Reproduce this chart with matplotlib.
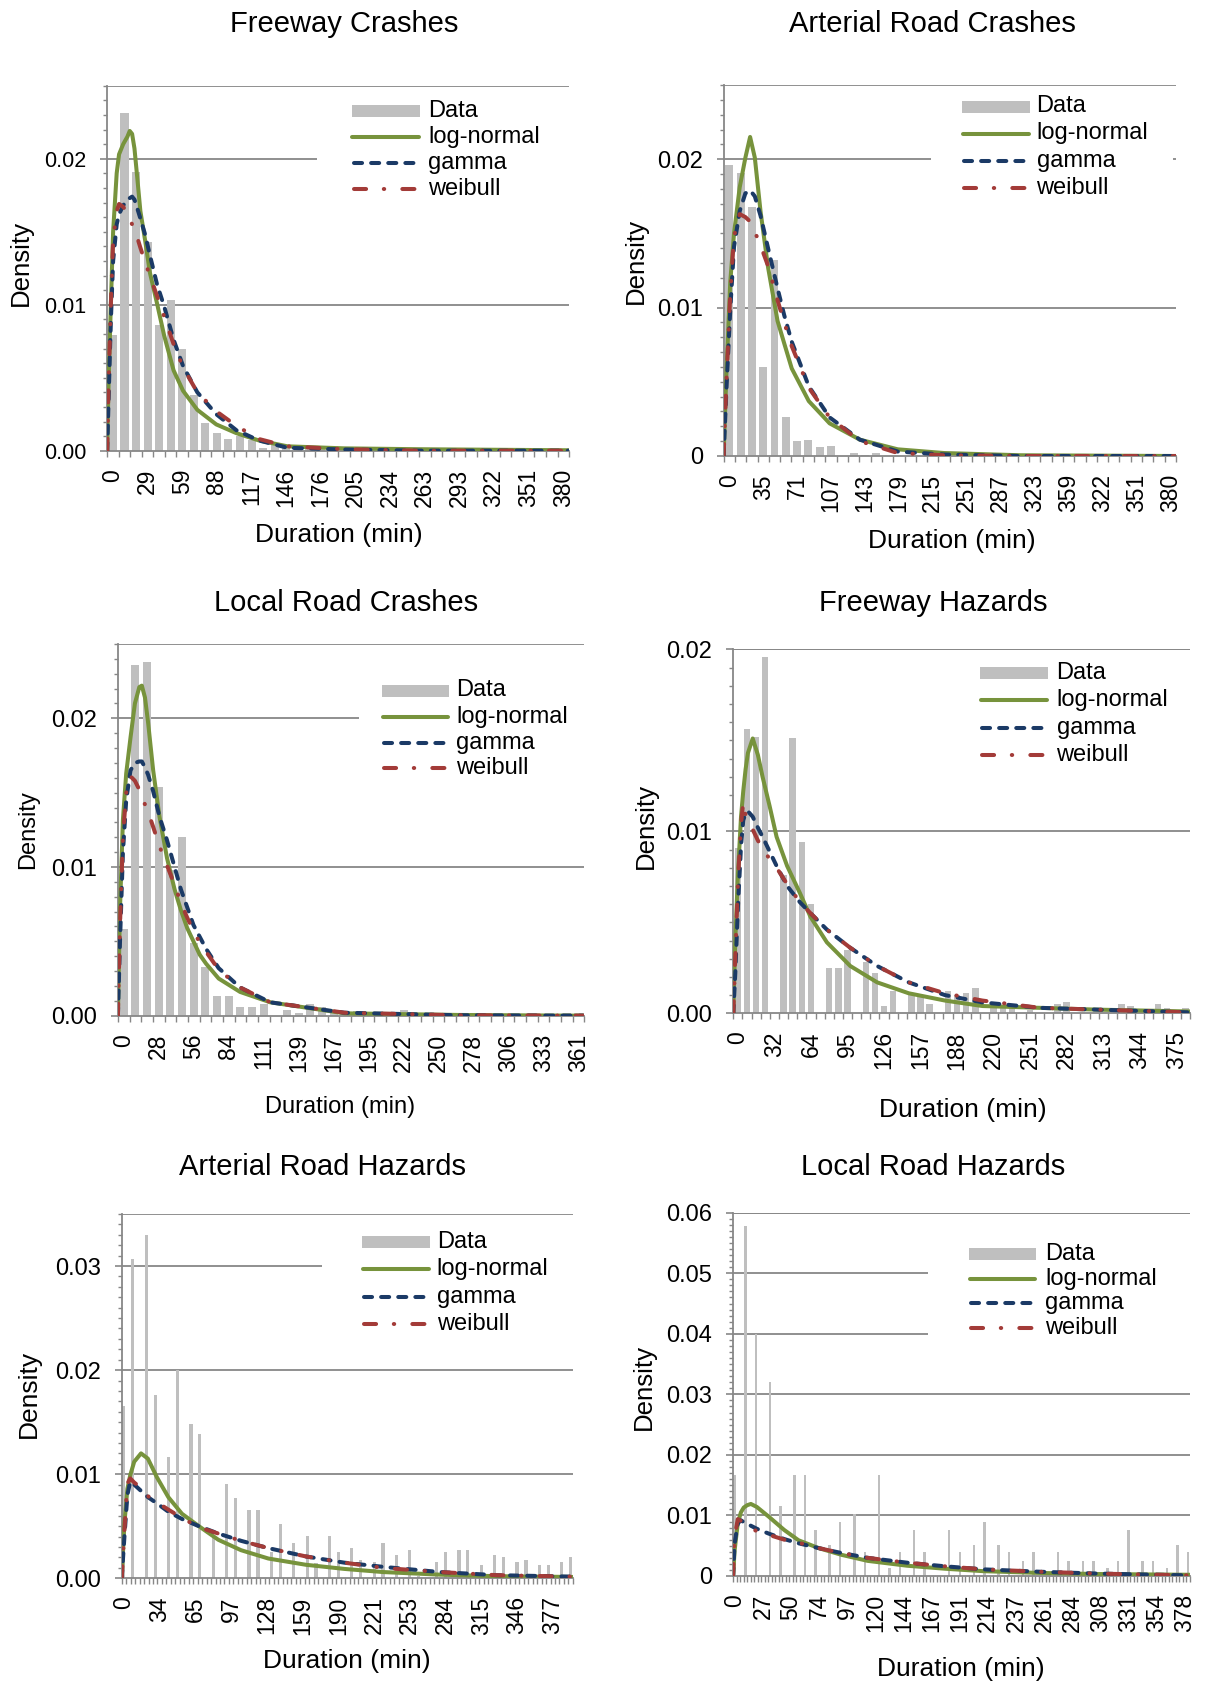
import numpy as np
import matplotlib
matplotlib.use("Agg")
import matplotlib.pyplot as plt
from matplotlib.patches import Rectangle
from matplotlib.lines import Line2D
from matplotlib.ticker import MultipleLocator

plt.rcParams['font.family'] = ['Liberation Sans', 'DejaVu Sans']

W, H = 1206, 1686
BAR = "#BFBFBF"
GRID = "#878787"
GREEN = "#77933C"
BLUE = "#1B3A66"
RED = "#A33B38"

# ---------------------- data ----------------------
titles = ["Freeway Crashes", "Arterial Road Crashes", "Local Road Crashes",
          "Freeway Hazards", "Arterial Road Hazards", "Local Road Hazards"]

n_cats = [40, 40, 40, 50, 101, 130]
bin_width = [9.74, 11.95, 9.26, 7.81, 3.93, 2.95]   # minutes per category
label_step = [3, 3, 3, 4, 8, 8]
y_max = [0.025, 0.025, 0.025, 0.02, 0.035, 0.06]

y_ticks = [[0, 0.01, 0.02], [0, 0.01, 0.02], [0, 0.01, 0.02], [0, 0.01, 0.02],
           [0, 0.01, 0.02, 0.03], [0, 0.01, 0.02, 0.03, 0.04, 0.05, 0.06]]
y_labels = [["0.00", "0.01", "0.02"], ["0", "0.01", "0.02"], ["0.00", "0.01", "0.02"],
            ["0.00", "0.01", "0.02"], ["0.00", "0.01", "0.02", "0.03"],
            ["0", "0.01", "0.02", "0.03", "0.04", "0.05", "0.06"]]

fc_xlabels = ["0", "29", "59", "88", "117", "146", "176", "205", "234", "263", "293", "322", "351", "380"]
ac_xlabels = ["0", "35", "71", "107", "143", "179", "215", "251", "287", "323", "359", "322", "351", "380"]
lc_xlabels = ["0", "28", "56", "84", "111", "139", "167", "195", "222", "250", "278", "306", "333", "361"]
fh_xlabels = ["0", "32", "64", "95", "126", "157", "188", "220", "251", "282", "313", "344", "375"]
ah_xlabels = ["0", "34", "65", "97", "128", "159", "190", "221", "253", "284", "315", "346", "377"]
lh_xlabels = ["0", "27", "50", "74", "97", "120", "144", "167", "191", "214", "237", "261", "284",
              "308", "331", "354", "378"]

# histogram densities per category
fc_bars = [0.0079, 0.0231, 0.0191, 0.0143, 0.0086, 0.0103, 0.0070, 0.0038, 0.0019, 0.0012,
           0.0008, 0.0010, 0.0007, 0.0002, 0.0004, 0.0002, 0.0001, 0.0001, 0.0001, 0.0001,
           0.0001, 0.0000, 0.0001, 0.0000, 0.0001, 0.0002, 0.0000, 0.0000, 0.0000, 0.0000,
           0.0000, 0.0000, 0.0000, 0.0000, 0.0000, 0.0000, 0.0000, 0.0000, 0.0000, 0.0000]
ac_bars = [0.0196, 0.0191, 0.0168, 0.0060, 0.0132, 0.0026, 0.0010, 0.0011, 0.0006, 0.0007,
           0.0000, 0.0002, 0.0001, 0.0002, 0.0000, 0.0000, 0.0000, 0.0000, 0.0000, 0.0000,
           0.0000, 0.0000, 0.0000, 0.0000, 0.0000, 0.0000, 0.0000, 0.0000, 0.0000, 0.0000,
           0.0000, 0.0000, 0.0000, 0.0000, 0.0000, 0.0000, 0.0000, 0.0000, 0.0000, 0.0000]
lc_bars = [0.0058, 0.0236, 0.0238, 0.0154, 0.0098, 0.0120, 0.0049, 0.0033, 0.0013, 0.0013,
           0.0006, 0.0006, 0.0008, 0.0000, 0.0004, 0.0002, 0.0008, 0.0006, 0.0002, 0.0000,
           0.0003, 0.0000, 0.0000, 0.0000, 0.0004, 0.0000, 0.0000, 0.0000, 0.0000, 0.0000,
           0.0000, 0.0000, 0.0000, 0.0000, 0.0000, 0.0000, 0.0001, 0.0000, 0.0002, 0.0002]
fh_bars = [0.0091, 0.0156, 0.0152, 0.0196, 0.0000, 0.0076, 0.0151, 0.0094, 0.0060, 0.0000,
           0.0025, 0.0025, 0.0035, 0.0000, 0.0028, 0.0022, 0.0004, 0.0012, 0.0000, 0.0010,
           0.0010, 0.0005, 0.0000, 0.0012, 0.0010, 0.0011, 0.0014, 0.0000, 0.0003, 0.0003,
           0.0003, 0.0000, 0.0002, 0.0000, 0.0000, 0.0005, 0.0006, 0.0000, 0.0000, 0.0000,
           0.0000, 0.0000, 0.0005, 0.0004, 0.0000, 0.0000, 0.0005, 0.0003, 0.0000, 0.0003]
# hazards: sparse bars (category index, density)
ah_bar_idx = [0, 2, 5, 7, 10, 12, 15, 17, 20, 23, 25, 28, 30, 33, 35, 38, 41, 43, 46, 48,
              51, 53, 56, 58, 61, 64, 66, 70, 72, 75, 77, 80, 83, 85, 88, 90, 93, 95, 98, 100]
ah_bar_h = [0.0166, 0.0307, 0.0330, 0.0176, 0.0117, 0.0200, 0.0148, 0.0139, 0.0040, 0.0091,
            0.0077, 0.0066, 0.0066, 0.0025, 0.0052, 0.0034, 0.0041, 0.0015, 0.0041, 0.0025,
            0.0029, 0.0018, 0.0016, 0.0034, 0.0022, 0.0027, 0.0002, 0.0016, 0.0025, 0.0027,
            0.0027, 0.0013, 0.0022, 0.0020, 0.0016, 0.0018, 0.0013, 0.0013, 0.0016, 0.0020]
lh_bar_idx = [0, 3, 6, 10, 13, 17, 20, 23, 27, 30, 34, 37, 41, 44, 47, 51, 54, 61, 64, 68,
              71, 75, 78, 82, 85, 92, 95, 99, 102, 106, 109, 112, 116, 119, 123, 126, 129]
lh_bar_h = [0.0167, 0.0578, 0.0400, 0.0321, 0.0116, 0.0166, 0.0166, 0.0076, 0.0051, 0.0089,
            0.0102, 0.0039, 0.0166, 0.0013, 0.0039, 0.0076, 0.0039, 0.0076, 0.0039, 0.0051,
            0.0089, 0.0051, 0.0039, 0.0025, 0.0039, 0.0039, 0.0025, 0.0025, 0.0025, 0.0013,
            0.0025, 0.0076, 0.0025, 0.0025, 0.0013, 0.0051, 0.0039]

# fitted curves (x in minutes)
fc_x = [0, 1, 3, 5, 8, 10, 13.5, 17, 19, 21, 23, 25, 28, 32, 36, 42, 48, 56, 64, 76,
        92, 109, 128, 152, 200, 265, 389]
fc_lognorm = [0, .0041, .0098, .0150, .0190, .0203, .0210, .0215, .0219, .0217, .0207, .0190, .0164,
              .0144, .0122, .0101, .0079, .0055, .0041, .0028, .0018, .0012, .0007, .0003, .00016, .0001, .00003]
fc_gamma = [0, .0030, .0087, .0130, .0155, .0162, .0168, .0172, .0173, .0174, .0172, .0167, .0159,
            .0148, .0134, .0114, .0099, .0076, .0058, .0040, .0025, .0014, .0007, .0002, .00008, 0, 0]
fc_weibull = [0, .0041, .0098, .0144, .0164, .0169, .0167, .0163, .0159, .0155, .0152, .0147, .0139,
              .0129, .0120, .0106, .0092, .0073, .0057, .0040, .0027, .0017, .0008, .0003, .0001, 0, 0]

ac_x = [0, 3, 7, 11, 17, 23, 28, 33, 39, 47, 57, 64, 72, 90, 112, 144, 184, 233, 314, 478]
ac_lognorm = [0, .0056, .0117, .0150, .0181, .0201, .0215, .0201, .0165, .0127, .0091, .0076, .0059,
              .0037, .0022, .0011, .00045, .0002, .00005, 0]
ac_gamma = [0, .0045, .0098, .0141, .0165, .0177, .0179, .0175, .0162, .0140, .0113, .0095, .0077,
            .0047, .0026, .0011, .0003, .0001, 0, 0]
ac_weibull = [0, .0050, .0109, .0148, .0163, .0161, .0158, .0151, .0142, .0128, .0105, .0090, .0074,
              .0046, .0026, .0010, .0002, .00005, 0, 0]

lc_x = [0, 1.7, 4, 6.6, 10, 13.5, 17, 19, 21.5, 24, 28, 33, 39, 45, 50, 55, 60, 65, 70, 80,
        97, 121, 180, 270, 370]
lc_lognorm = [0, .0073, .0132, .0163, .0187, .0210, .0221, .0222, .0214, .0197, .0165, .0134, .0106,
              .0085, .0071, .0059, .0050, .0041, .0035, .0025, .0016, .0009, .00016, .00005, 0]
lc_gamma = [0, .0051, .0110, .0145, .0165, .0170, .0171, .0171, .0167, .0162, .0151, .0134, .0118,
            .0100, .0085, .0073, .0061, .0053, .0045, .0032, .0019, .0009, .0002, .00003, 0]
lc_weibull = [0, .0062, .0120, .0150, .0161, .0158, .0152, .0148, .0142, .0137, .0127, .0114, .0101,
              .0088, .0076, .0066, .0057, .0049, .0043, .0031, .0019, .0009, .0002, .00003, 0]

fh_x = [0, 1.7, 4, 6.6, 8.5, 10.5, 12.5, 16.6, 21, 25, 31, 37, 46, 57, 66, 80, 100, 123, 150, 181,
        213, 262, 312, 390]
fh_lognorm = [0, .0040, .0077, .0108, .0122, .0134, .0143, .0151, .0142, .0130, .0114, .0097, .0081,
              .0066, .0053, .0039, .0026, .0017, .0011, .0007, .0004, .0003, .0002, .0001]
fh_gamma = [0, .0022, .0059, .0092, .0106, .0110, .0111, .0108, .0102, .0097, .0089, .0081, .0070,
            .0061, .0055, .0046, .0036, .0026, .0017, .0010, .0006, .0003, .0002, .00005]
fh_weibull = [0, .0031, .0073, .0104, .0116, .0109, .0106, .0101, .0095, .0090, .0085, .0080, .0071,
              .0061, .0055, .0046, .0036, .0026, .0017, .0011, .0007, .0003, .0002, .00005]

ah_x = [0, 2.4, 5, 7.5, 11, 17, 23, 31, 41, 53, 68, 85, 105, 129, 162, 196, 230, 280, 330, 396]
ah_lognorm = [0, .0053, .0086, .0099, .0112, .0120, .0115, .0097, .0078, .0062, .0050, .0037, .0027,
              .0019, .0013, .0009, .0006, .00035, .0002, .00013]
ah_gamma = [0, .0040, .0080, .0093, .0090, .0084, .0078, .0072, .0064, .0057, .0050, .0043, .0036,
            .0029, .0021, .0015, .0011, .0006, .0003, .00016]
ah_weibull = [0, .0046, .0091, .0096, .0092, .0087, .0079, .0073, .0066, .0058, .0049, .0043, .0036,
              .0029, .0021, .0015, .0010, .0006, .0003, .00016]

lh_x = [0, 1.4, 4, 6.6, 9, 12, 15, 20, 30, 43, 55, 72, 91, 113, 146, 178, 210, 258, 306, 383]
lh_lognorm = [0, .0043, .0087, .0105, .0113, .0117, .0119, .0114, .0098, .0076, .0059, .0046, .0035,
              .0025, .0017, .0012, .0008, .0005, .00033, .0002]
lh_gamma = [0, .0054, .0087, .0092, .0089, .0086, .0083, .0078, .0070, .0061, .0054, .0046, .0038,
            .0030, .0022, .0016, .0011, .0007, .0004, .0001]
lh_weibull = [0, .0065, .0094, .0091, .0087, .0083, .0079, .0074, .0068, .0060, .0055, .0046, .0038,
              .0030, .0022, .0016, .0011, .0007, .0004, .0001]

legend_names = ["Data", "log-normal", "gamma", "weibull"]

# ---------------------- assemble ----------------------
ah_bars = np.zeros(n_cats[4])
ah_bars[ah_bar_idx] = ah_bar_h
lh_bars = np.zeros(n_cats[5])
lh_bars[lh_bar_idx] = lh_bar_h

bars = [fc_bars, ac_bars, lc_bars, fh_bars, ah_bars, lh_bars]
xlabels = [fc_xlabels, ac_xlabels, lc_xlabels, fh_xlabels, ah_xlabels, lh_xlabels]
curve_x = [fc_x, ac_x, lc_x, fh_x, ah_x, lh_x]
lognorm = [fc_lognorm, ac_lognorm, lc_lognorm, fh_lognorm, ah_lognorm, lh_lognorm]
gamma = [fc_gamma, ac_gamma, lc_gamma, fh_gamma, ah_gamma, lh_gamma]
weibull = [fc_weibull, ac_weibull, lc_weibull, fh_weibull, ah_weibull, lh_weibull]

# layout in pixels (left, top, right, bottom)
layout = [
    dict(plot=(107.2, 85.7, 569.1, 450.7), title=(344, 23.6), xlab=(338.6, 535.3), ylab=(20.4, 263),
         leg_x=(351.5, 419.5, 428), leg_y=(110.7, 136.5, 163.4, 189.2), box=(317, 95, 575, 203),
         ytick_fs=15.5, xlab_fs=19, ylab_fs=18.6),
    dict(plot=(723.6, 85, 1176, 456), title=(932, 23.6), xlab=(952, 540.7), ylab=(636, 261),
         leg_x=(962, 1030, 1036.5), leg_y=(106.5, 133.5, 160.5, 187.5), box=(931, 93, 1173, 201),
         ytick_fs=17, xlab_fs=19, ylab_fs=18.6),
    dict(plot=(117.9, 644, 584.4, 1015.7), title=(346, 603), xlab=(339.7, 1107.5), ylab=(28, 830),
         leg_x=(381.6, 449, 456), leg_y=(690.5, 716.6, 742.5, 768.2), box=(359, 677, 590, 782),
         ytick_fs=17, xlab_fs=17, ylab_fs=17),
    dict(plot=(733.3, 649.3, 1190, 1013.3), title=(933, 603), xlab=(963, 1110), ylab=(646, 825.5),
         leg_x=(980, 1048, 1056.5), leg_y=(673, 700.2, 728, 754.8), box=(965, 660, 1195, 768),
         ytick_fs=17, xlab_fs=19, ylab_fs=18.6),
    dict(plot=(121.7, 1214, 572.9, 1578.3), title=(322.5, 1167), xlab=(347, 1660.7), ylab=(29, 1394),
         leg_x=(362, 430, 436.7), leg_y=(1242, 1268.8, 1296.8, 1324), box=(321.5, 1228, 578, 1338),
         ytick_fs=17, xlab_fs=19, ylab_fs=19),
    dict(plot=(733, 1212.7, 1190, 1576), title=(933, 1167), xlab=(961, 1669), ylab=(644, 1387),
         leg_x=(969, 1036, 1045), leg_y=(1254, 1278.6, 1303.4, 1327.8), box=(928, 1241, 1195, 1341),
         ytick_fs=17, xlab_fs=19, ylab_fs=18.6),
]

LW = 2.9
GAMMA_LS = (0, (2.0, 2.25))
WEIB_LS = (0, (3.0, 4.4, 0.1, 4.5))


def fx(x):
    return x / W


def fy(y):
    return 1 - y / H


fig = plt.figure(figsize=(W / 100, H / 100), dpi=100)

for i in range(6):
    L = layout[i]
    l, t, r, b = L["plot"]
    ax = fig.add_axes([fx(l), fy(b), (r - l) / W, (b - t) / H])
    n = n_cats[i]
    ax.set_xlim(-0.5, n - 0.5)
    ax.set_ylim(0, y_max[i])

    for yv in list(y_ticks[i][1:]) + [y_max[i]]:
        ax.axhline(yv, color=GRID, lw=1.3, zorder=1)

    ax.bar(np.arange(n), bars[i], width=0.7, color=BAR, linewidth=0, zorder=2)

    xc = -0.5 + np.array(curve_x[i]) / bin_width[i]
    ax.plot(xc, lognorm[i], color=GREEN, lw=LW, solid_joinstyle='round', zorder=4)
    ax.plot(xc, gamma[i], color=BLUE, lw=LW, ls=GAMMA_LS, dash_capstyle='round', zorder=5)
    ax.plot(xc, weibull[i], color=RED, lw=LW, ls=WEIB_LS, dash_capstyle='round', zorder=6)

    for s in ("top", "right"):
        ax.spines[s].set_visible(False)
    for s in ("left", "bottom"):
        ax.spines[s].set_color(GRID)
        ax.spines[s].set_linewidth(1.3)

    ax.set_yticks(y_ticks[i])
    ax.set_yticklabels(y_labels[i])
    ax.yaxis.set_minor_locator(MultipleLocator(0.001))
    ax.tick_params(axis='y', which='major', length=5, width=1.2, color=GRID, pad=10,
                   labelsize=L["ytick_fs"])
    ax.tick_params(axis='y', which='minor', length=3, width=1.0, color=GRID)

    major = np.arange(0, n, label_step[i])[:len(xlabels[i])]
    ax.set_xticks(major)
    ax.set_xticklabels(xlabels[i], rotation=90)
    ax.set_xticks(np.arange(-0.5, n, 1.0), minor=True)
    ax.tick_params(axis='x', which='major', length=0, pad=13, labelsize=16.5)
    ax.tick_params(axis='x', which='minor', length=4.3, width=1.0, color=GRID)

    # titles and axis labels
    fig.text(fx(L["title"][0]), fy(L["title"][1]), titles[i], ha='center', va='center', fontsize=21)
    fig.text(fx(L["xlab"][0]), fy(L["xlab"][1]), "Duration (min)", ha='center', va='center',
             fontsize=L["xlab_fs"])
    fig.text(fx(L["ylab"][0]), fy(L["ylab"][1]), "Density", ha='center', va='center',
             rotation=90, fontsize=L["ylab_fs"])

    # legend
    bx0, by0, bx1, by1 = L["box"]
    fig.add_artist(Rectangle((fx(bx0), fy(by1)), (bx1 - bx0) / W, (by1 - by0) / H,
                             transform=fig.transFigure, facecolor='white', edgecolor='none', zorder=5))
    x0, x1, xt = L["leg_x"]
    rows = L["leg_y"]
    fig.add_artist(Rectangle((fx(x0), fy(rows[0] + 6)), (x1 - x0) / W, 12 / H,
                             transform=fig.transFigure, facecolor=BAR, edgecolor='none', zorder=6))
    fig.add_artist(Line2D([fx(x0 + 1), fx(x1 - 1)], [fy(rows[1])] * 2, transform=fig.transFigure,
                          color=GREEN, lw=LW, solid_capstyle='round', zorder=6))
    fig.add_artist(Line2D([fx(x0 + 2), fx(x1)], [fy(rows[2])] * 2, transform=fig.transFigure,
                          color=BLUE, lw=LW, ls=GAMMA_LS, dash_capstyle='round', zorder=6))
    fig.add_artist(Line2D([fx(x0 + 2), fx(x1)], [fy(rows[3])] * 2, transform=fig.transFigure,
                          color=RED, lw=LW, ls=WEIB_LS, dash_capstyle='round', zorder=6))
    for yv, name in zip(rows, legend_names):
        fig.text(fx(xt), fy(yv), name, ha='left', va='center', fontsize=17, zorder=7)

fig.savefig("out.png", dpi=100)
